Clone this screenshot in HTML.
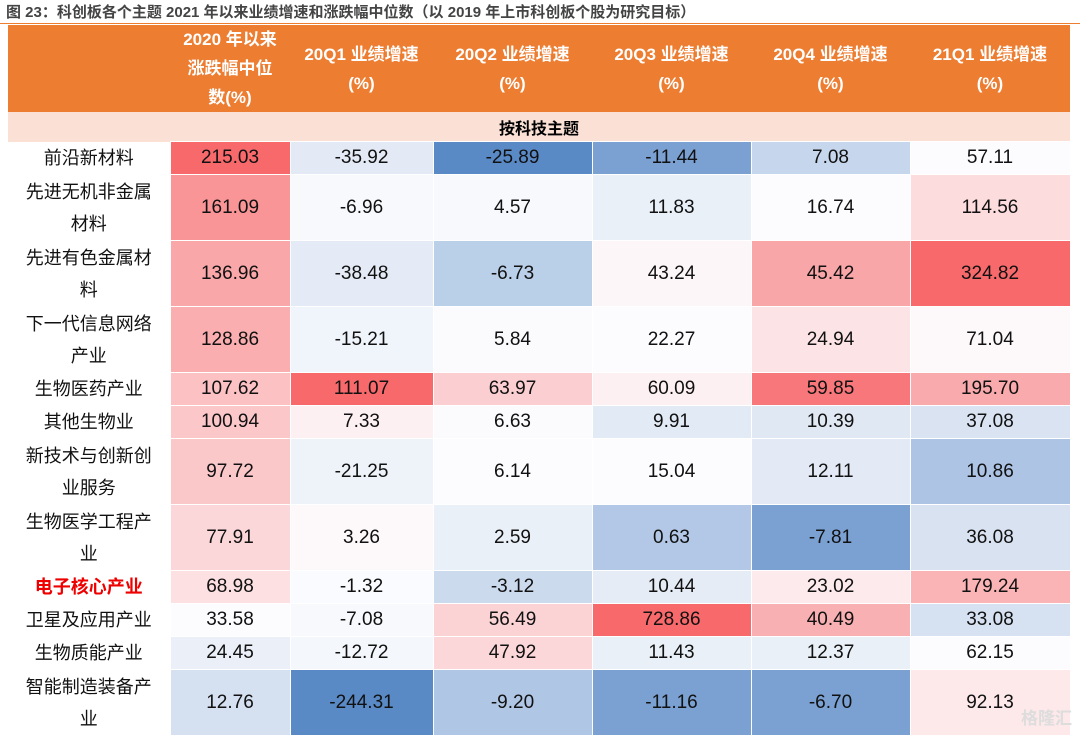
<!DOCTYPE html>
<html><head><meta charset="utf-8">
<style>
body{margin:0;width:1080px;height:731px;background:#fff;overflow:hidden;font-family:"Liberation Sans","Noto Sans CJK SC",sans-serif;position:relative}
#title{position:absolute;left:6px;top:1px;font-size:15px;font-weight:bold;color:#444;white-space:nowrap}
#rule{position:absolute;left:0;top:23px;width:1080px;height:1px;background:#ed7d31}
table{position:absolute;left:8px;top:25px;border-collapse:collapse;table-layout:fixed;width:1062px}
td,th{padding:0;text-align:center;vertical-align:middle}
th{background:#ed7d31;color:#fff;font-size:17px;font-weight:bold;line-height:29px}
.sub td{background:#fbe0d5;font-weight:bold;font-size:16px;height:29px}
.lab{font-size:18px;color:#111;line-height:32px;padding:0 4px}
.val{font-size:19px;color:#111;border:1px solid #fff}
#wm{position:absolute;right:8px;top:704px;color:#ddd;font-size:17px;font-weight:bold}
</style></head><body>
<div id="title">图 23：科创板各个主题 2021 年以来业绩增速和涨跌幅中位数（以 2019 年上市科创板个股为研究目标）</div>
<div id="rule"></div>
<table id="tbl">
<colgroup><col style="width:162px"><col style="width:120px"><col style="width:143px"><col style="width:159px"><col style="width:159px"><col style="width:159px"><col style="width:160px"></colgroup>
<tr style="height:87px">
<th></th>
<th>2020 年以来<br>涨跌幅中位<br>数(%)</th>
<th>20Q1 业绩增速<br>(%)</th>
<th>20Q2 业绩增速<br>(%)</th>
<th>20Q3 业绩增速<br>(%)</th>
<th>20Q4 业绩增速<br>(%)</th>
<th>21Q1 业绩增速<br>(%)</th>
</tr>
<tr class="sub"><td colspan="7">按科技主题</td></tr>
</table>
<div id="wm">格隆汇</div>
<script>
const categories=["前沿新材料","先进无机非金属材料","先进有色金属材料","下一代信息网络产业","生物医药产业","其他生物业","新技术与创新创业服务","生物医学工程产业","电子核心产业","卫星及应用产业","生物质能产业","智能制造装备产业"];
const change2020=[215.03,161.09,136.96,128.86,107.62,100.94,97.72,77.91,68.98,33.58,24.45,12.76];
const q1_20=[-35.92,-6.96,-38.48,-15.21,111.07,7.33,-21.25,3.26,-1.32,-7.08,-12.72,-244.31];
const q2_20=[-25.89,4.57,-6.73,5.84,63.97,6.63,6.14,2.59,-3.12,56.49,47.92,-9.20];
const q3_20=[-11.44,11.83,43.24,22.27,60.09,9.91,15.04,0.63,10.44,728.86,11.43,-11.16];
const q4_20=[7.08,16.74,45.42,24.94,59.85,10.39,12.11,-7.81,23.02,40.49,12.37,-6.70];
const q1_21=[57.11,114.56,324.82,71.04,195.70,37.08,10.86,36.08,179.24,33.08,62.15,92.13];
const labelLines=[["前沿新材料"],["先进无机非金属","材料"],["先进有色金属材","料"],["下一代信息网络","产业"],["生物医药产业"],["其他生物业"],["新技术与创新创","业服务"],["生物医学工程产","业"],["电子核心产业"],["卫星及应用产业"],["生物质能产业"],["智能制造装备产","业"]];
const series=[change2020,q1_20,q2_20,q3_20,q4_20,q1_21];
const seriesNames=["change-2020","q1-20","q2-20","q3-20","q4-20","q1-21"];
// style: cell fill colours
const cellColors=[
["#f8696b","#e3eaf5","#5a8ac6","#7aa1d2","#c6d6ec","#fcfcff"],
["#f99597","#f7f9fd","#f7f9fd","#eaf0f8","#fcfcff","#fcdcdd"],
["#faa7a9","#e4ebf6","#bacfe8","#fdf6f8","#f9a6a8","#f8696b"],
["#faaeb0","#f0f4fb","#fbfbfe","#fcfbfe","#fce4e6","#fdf8fa"],
["#fbc1c3","#f8696b","#fbcfd1","#fdf0f2","#f8777a","#f9aaac"],
["#fbc7c9","#fdf0f2","#fbfbfe","#e2eaf5","#e0e8f4","#d9e3f2"],
["#fbc8ca","#eef3fa","#fcfcff","#fcfcff","#e3eaf5","#adc4e4"],
["#fcd7d9","#fdf8fa","#eaf0f8","#b2c8e6","#7aa1d2","#d8e2f1"],
["#fde0e2","#fafbfe","#ccdaee","#e5ecf6","#fdeaec","#fab4b6"],
["#fcfcff","#f7f9fd","#fbd3d5","#f8696b","#f9b0b2","#d6e1f1"],
["#ebf0f8","#f4f7fc","#fbd7d9","#eaf0f8","#eaf0f8","#fcfcff"],
["#d5e0f0","#5a8ac6","#b0c6e5","#7aa1d2","#7aa1d2","#fde8ea"]];
const tbl=document.getElementById('tbl');
categories.forEach((c,r)=>{
  const tr=document.createElement('tr');
  
  
  tr.style.height=(labelLines[r].length>1?66:33)+'px';
  const td=document.createElement('td');
  td.className='lab';
  
  
  td.innerHTML=labelLines[r].join('<br>');
  if(c==="电子核心产业"){td.style.color='#e00';td.style.fontWeight='bold';}
  tr.appendChild(td);
  series.forEach((s,k)=>{
    const v=document.createElement('td');
    v.className='val';
    
    
    v.textContent=s[r].toFixed(2);
    v.style.background=(cellColors[r]&&cellColors[r][k])||'#fcfcff';
    tr.appendChild(v);
  });
  tbl.appendChild(tr);
});
</script>
</body></html>
